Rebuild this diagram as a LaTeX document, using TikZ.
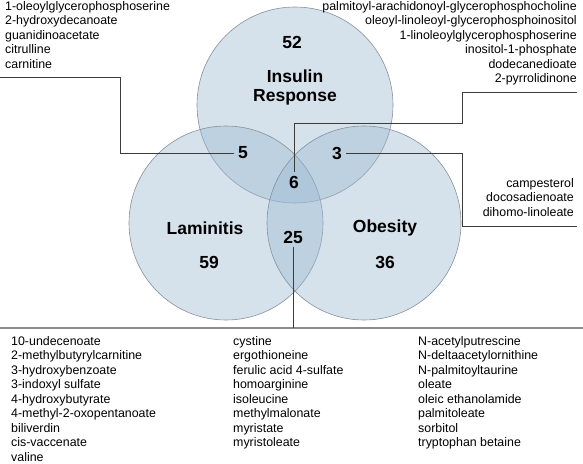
\documentclass[tikz,border=0pt]{standalone}
\usepackage{fontspec}
\setmainfont{Liberation Sans}
\usetikzlibrary{positioning, calc}

\definecolor{vennfill}{RGB}{156,185,209}
\definecolor{venndraw}{RGB}{135,145,158}
\definecolor{rulegray}{RGB}{140,140,140}
\definecolor{leadergray}{RGB}{60,60,60}

\tikzset{
  setcircle/.style={draw=venndraw, line width=0.6pt, fill=vennfill, fill opacity=0.42},
  count/.style={font=\bfseries\fontsize{17.5}{19}\selectfont, inner sep=4pt},
  setname/.style={count, inner sep=0pt, align=center},
  metlist/.style={font=\fontsize{12.4}{14.5}\selectfont, inner sep=0pt},
  leader/.style={draw=leadergray, line width=0.7pt},
}

\begin{document}
\begin{tikzpicture}[x=1pt, y=-1pt]
\useasboundingbox (0,0) rectangle (583,463);
% the three sets
\draw[setcircle] (295,105) circle (98pt);
\draw[setcircle] (226,223) circle (97pt);
\draw[setcircle] (364,223) circle (97pt);
% set names and counts
\node[count] (n52) at (292,42) {52};
\node[setname] (ins) at (295,87) {Insulin\\Response};
\node[count] (n5) at (243,153) {5};
\node[count] (n3) at (337,153) {3};
\node[count] (n6) at (294,182) {6};
\node[setname] (lam) at (205,228) {Laminitis};
\node[count] (n59) at (209,262) {59};
\node[count] (n25) at (293,237) {25};
\node[setname] (obe) at (385,228) {Obesity};
\node[count] (n36) at (385,262) {36};
% metabolite lists
\node[metlist, align=left, anchor=north west] (ltop) at (5,1)
  {1-oleoylglycerophosphoserine\\2-hydroxydecanoate\\guanidinoacetate\\citrulline\\carnitine};
\node[metlist, align=right, anchor=north east] (rtop) at (577,1)
  {palmitoyl-arachidonoyl-glycerophosphocholine\\oleoyl-linoleoyl-glycerophosphoinositol\\1-linoleoylglycerophosphoserine\\inositol-1-phosphate\\dodecanedioate\\2-pyrrolidinone};
\node[metlist, align=right, anchor=north east] (rmid) at (574,178)
  {campesterol\\docosadienoate\\dihomo-linoleate};
\node[metlist, align=left, anchor=north west] (bot1) at (11,336)
  {10-undecenoate\\2-methylbutyrylcarnitine\\3-hydroxybenzoate\\3-indoxyl sulfate\\4-hydroxybutyrate\\4-methyl-2-oxopentanoate\\biliverdin\\cis-vaccenate\\valine};
\node[metlist, align=left, anchor=north west] (bot2) at (233,336)
  {cystine\\ergothioneine\\ferulic acid 4-sulfate\\homoarginine\\isoleucine\\methylmalonate\\myristate\\myristoleate};
\node[metlist, align=left, anchor=north west] (bot3) at (418,336)
  {N-acetylputrescine\\N-deltaacetylornithine\\N-palmitoyltaurine\\oleate\\oleic ethanolamide\\palmitoleate\\sorbitol\\tryptophan betaine};
% leader lines
\coordinate (lend) at (0,77);
\coordinate (lknee) at (120,77);
\draw[leader] (n5.west) -| (lknee) -- (lend);
\coordinate (k6) at (462,123);
\coordinate (r6end) at (577,92);
\draw[leader] (n6.north) |- (k6) |- (r6end);
\coordinate (k3) at (462,226);
\coordinate (r3end) at (577,226);
\draw[leader] (n3.east) -| (k3) -- (r3end);
% base rule
\coordinate (rl) at (0,328);
\coordinate (rr) at (583,328);
\draw[rulegray, line width=1.6pt] (rl) -- (rr);
\draw[leader] (n25.south) -- (n25.south |- rl);
\end{tikzpicture}
\end{document}
